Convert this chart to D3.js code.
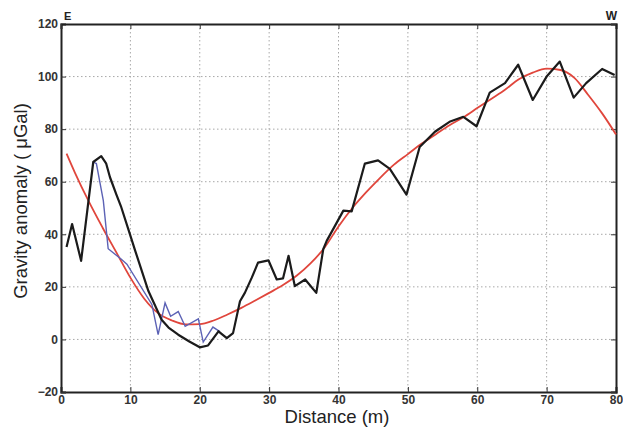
<!DOCTYPE html>
<html>
<head>
<meta charset="utf-8">
<script src="https://cdn.jsdelivr.net/npm/d3@7"></script>
<style>
  body { margin: 0; background: #fff; }
  svg { font-family: "Liberation Sans", Arial, sans-serif; }
</style>
</head>
<body>
<svg id="graph"></svg>
<script>
// observed gravity (black)
var obsX = [0.8,1.6,2.9,4.65,5.8,6.5,7.06,8,8.7,10,10.7,12.6,14.5,15.5,16.9,18.5,20,21.2,22.7,23.9,24.8,25.8,26.5,27.5,28.4,29.9,31.1,32,32.8,33.7,35.2,36.8,37.8,38.3,40.7,41.9,43.8,45.7,47.4,49.8,51.7,53.9,56,58,59.9,61.8,64,65.9,68,70,71.9,73.9,75.7,78,79.8]
var obsY = [35.2,43.9,29.9,67.5,69.7,67,61.7,55,50.2,39.5,33.7,18.4,7.5,4.5,1.8,-0.8,-3,-2.3,3.1,0.5,2.4,14.5,17.7,23.5,29.2,30.1,22.8,23.2,31.8,20.3,22.8,17.7,34.3,37.5,49,48.7,66.9,68.1,64.9,55.1,73.2,79,82.8,84.7,81.1,93.9,97.5,104.5,91.1,100,105.7,92,97.5,102.9,100.6]
// second profile (blue)
var blueX = [4.65,5.1,6.1,6.8,8.7,9.5,13.1,14.0,15.0,15.8,16.9,17.9,19.8,20.5,21.9,22.9]
var blueY = [67.5,66.9,52.8,34.5,30.5,28.6,13.3,1.8,13.9,8.8,10.6,5,7.8,-1,4.7,3]
// regional trend (red)
var fitX = [0.8,2,4,6,8,10,12,14,16,18,20,22,24,26,28,30,32,34,36,38,40,42,44,46,48,50,52,54,56,58,60,62,64,66,68,70,72,74,76,78,80]
var fitY = [70.7,63.5,52.5,42.5,33,23.5,15.5,10,7.2,5.7,5.8,7.2,9.5,12,14.8,17.7,20.7,24.3,29,35,43,50,56,61.5,66.5,70.5,74.5,78,81.5,84.5,88,91.5,95,99,101.5,103,102.5,99.5,93,86,78]
var xTicks = [0,10,20,30,40,50,60,70,80]
var yTicks = [-20,0,20,40,60,80,100,120]

var width = 623
var height = 428
var svg = d3.select("#graph").attr("width", width).attr("height", height)

var x = d3.scaleLinear().domain([0, 80]).range([61, 616])
var y = d3.scaleLinear().domain([-20, 120]).range([392, 24])

// grid
svg.append("g").selectAll("line.vx")
  .data(xTicks.slice(1, -1))
  .enter().append("line")
  .attr("x1", function(d) {return x(d)}).attr("x2", function(d) {return x(d)})
  .attr("y1", y(120)).attr("y2", y(-20))
  .attr("stroke", "#a8a8a8").attr("stroke-width", 1).attr("stroke-dasharray", "1.5,2.5")
svg.append("g").selectAll("line.hy")
  .data(yTicks.slice(1, -1))
  .enter().append("line")
  .attr("y1", function(d) {return y(d)}).attr("y2", function(d) {return y(d)})
  .attr("x1", x(0)).attr("x2", x(80))
  .attr("stroke", "#a8a8a8").attr("stroke-width", 1).attr("stroke-dasharray", "1.5,2.5")

// axes
svg.append("g").attr("transform", "translate(0," + y(-20) + ")")
  .call(d3.axisBottom(x).tickValues(xTicks).tickSize(-5).tickPadding(3))
svg.append("g").attr("transform", "translate(" + x(0) + ",0)")
  .call(d3.axisLeft(y).tickValues(yTicks).tickSize(-5).tickPadding(3))
svg.append("g").attr("transform", "translate(0," + y(120) + ")")
  .call(d3.axisTop(x).tickValues(xTicks).tickSize(-5).tickFormat(""))
svg.append("g").attr("transform", "translate(" + x(80) + ",0)")
  .call(d3.axisRight(y).tickValues(yTicks).tickSize(-5).tickFormat(""))
svg.selectAll(".domain").attr("stroke", "#222").attr("stroke-width", 2)
svg.selectAll(".tick line").attr("stroke", "#333")
svg.selectAll(".tick text").attr("font-size", 12).attr("font-weight", "bold").attr("fill", "#333")
  .attr("font-family", "'Liberation Sans', Arial, sans-serif")

// lines
var line = d3.line()
  .x(function(d) {return x(d[0])})
  .y(function(d) {return y(d[1])})

svg.append("path")
  .datum(d3.zip(fitX, fitY))
  .attr("fill", "none").attr("stroke", "#e0463c").attr("stroke-width", 1.8)
  .attr("d", line.curve(d3.curveMonotoneX))
svg.append("path")
  .datum(d3.zip(blueX, blueY))
  .attr("fill", "none").attr("stroke", "#5c62b5").attr("stroke-width", 1.4)
  .attr("d", line.curve(d3.curveLinear))
svg.append("path")
  .datum(d3.zip(obsX, obsY))
  .attr("fill", "none").attr("stroke", "#1b1b1b").attr("stroke-width", 2.2)
  .attr("stroke-linejoin", "round")
  .attr("d", line.curve(d3.curveLinear))

// labels
svg.append("text").attr("x", 64).attr("y", 20).attr("font-size", 11).attr("font-weight", "bold")
  .attr("fill", "#222").text("E")
svg.append("text").attr("x", 617).attr("y", 20).attr("font-size", 12).attr("font-weight", "bold")
  .attr("text-anchor", "end").attr("fill", "#222").text("W")
svg.append("text").attr("x", 337).attr("y", 423).attr("font-size", 18.5).attr("text-anchor", "middle")
  .attr("fill", "#222").text("Distance (m)")
svg.append("text").attr("transform", "translate(27,201) rotate(-90)").attr("font-size", 18.5)
  .attr("text-anchor", "middle").attr("fill", "#222").text("Gravity anomaly ( μGal)")
</script>
</body>
</html>
